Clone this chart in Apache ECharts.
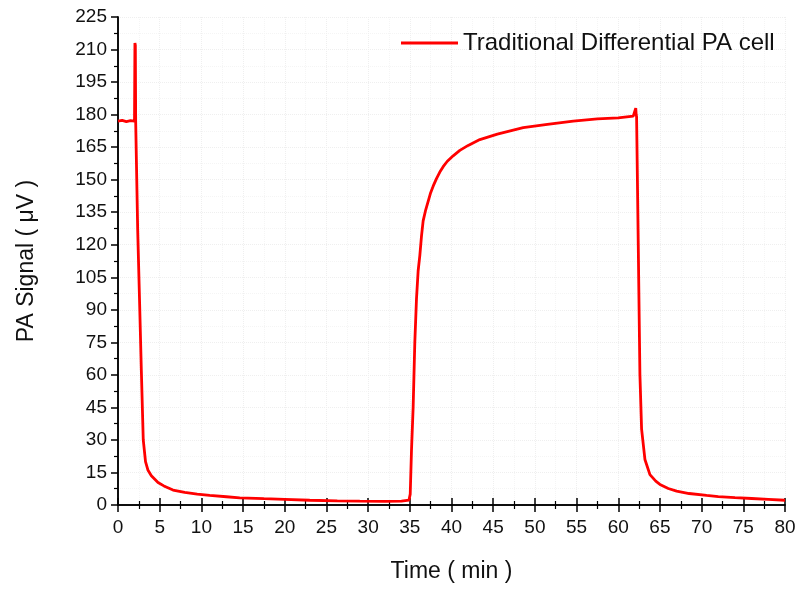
<!DOCTYPE html>
<html>
<head>
<meta charset="utf-8">
<script src="https://cdn.jsdelivr.net/npm/echarts@6/dist/echarts.min.js"></script>
<style>html,body{margin:0;padding:0;background:#fff}#c{width:800px;height:589px}</style>
</head>
<body>
<div id="c"></div>
<script>
var seriesName = 'Traditional Differential PA cell';
var xTitle = 'Time ( min )';
var yTitle = 'PA Signal ( \u03BCV )';
var timeMin = [0, 0.5, 1.0, 1.5, 1.98, 2.0, 2.03, 2.08, 2.12, 2.36, 2.6, 2.8, 3.03, 3.3, 3.6, 4.0, 4.8, 5.5, 6.6, 8.0, 9.5, 11, 13, 14.6, 17.5, 20, 23, 26.3, 29, 32, 34, 34.9,
  35.05, 35.2, 35.4, 35.6, 35.8, 36.0, 36.2, 36.4, 36.6, 36.9, 37.2, 37.5, 37.8, 38.2, 38.6, 39.0, 39.5, 40.2, 41.0, 42.0, 43.4, 45.5, 48.6, 51.5, 54.6, 57.5, 60, 61.8, 62.0, 62.1, 62.15, 62.2,
  62.4, 62.6, 62.8, 63.2, 63.8, 64.5, 65, 66, 67, 68.5, 70.6, 72, 74, 76, 78, 80];
var signalUV = [177, 177.3, 176.8, 177.2, 177, 177, 213, 212, 177, 127, 92, 62, 30, 20, 16, 13.5, 10.4, 8.8, 6.9, 5.8, 5.0, 4.4, 3.8, 3.3, 2.9, 2.6, 2.2, 1.9, 1.8, 1.7, 1.8, 2.3,
  5, 25, 45, 75, 95, 108, 115, 124, 131, 136, 140, 144, 147, 150.5, 153.5, 156, 158.5, 161, 163.5, 165.8, 168.5, 171, 174, 175.5, 177, 178, 178.5, 179.3, 180, 183, 180, 179,
  120, 60, 35, 21, 14, 11, 9.5, 7.6, 6.4, 5.3, 4.4, 3.9, 3.4, 3.0, 2.6, 2.2];
var xTicks = {min: 0, max: 80, interval: 5};
var yTicks = {min: 0, max: 225, interval: 15};

var data = timeMin.map(function (t, i) { return [t, signalUV[i]]; });
var font = 'Liberation Sans, Arial, sans-serif';
var axisLine = {show: true, lineStyle: {color: '#000', width: 1.5}};
var grid = {left: 118, right: 15, top: 17, bottom: 84};
var chart = echarts.init(document.getElementById('c'));
chart.setOption({
  animation: false,
  backgroundColor: '#fff',
  grid: grid,
  legend: {
    data: [seriesName], left: 396, top: 26, itemWidth: 57, itemHeight: 3, itemGap: 6,
    icon: 'rect',
    textStyle: {fontFamily: font, fontSize: 24, color: '#111'}
  },
  xAxis: [{
    type: 'value', min: xTicks.min, max: xTicks.max, interval: xTicks.interval,
    name: xTitle, nameLocation: 'middle', nameGap: 55,
    nameTextStyle: {fontFamily: font, fontSize: 23, color: '#111'},
    axisLine: axisLine,
    axisTick: {show: true, inside: false, length: 7, lineStyle: {color: '#000', width: 1.5}},
    minorTick: {show: true, splitNumber: 2, length: 4, lineStyle: {color: '#000', width: 1.2}},
    axisLabel: {fontFamily: font, fontSize: 19, color: '#111', margin: 13},
    splitLine: {show: true, lineStyle: {color: '#efefef', type: 'dotted', width: 1}},
    minorSplitLine: {show: true, lineStyle: {color: '#f5f5f5', type: 'dotted', width: 1}}
  }, {
    type: 'value', position: 'top', min: xTicks.min, max: xTicks.max, interval: xTicks.interval,
    axisLine: axisLine,
    axisTick: {show: true, inside: false, length: 7, lineStyle: {color: '#000', width: 1.5}},
    minorTick: {show: true, splitNumber: 2, length: 4, lineStyle: {color: '#000', width: 1.2}},
    axisLabel: {show: false}, splitLine: {show: false}
  }],
  yAxis: [{
    type: 'value', min: yTicks.min, max: yTicks.max, interval: yTicks.interval,
    name: yTitle, nameLocation: 'middle', nameGap: 80, nameRotate: 90,
    nameTextStyle: {fontFamily: font, fontSize: 23, color: '#111'},
    axisLine: axisLine,
    axisTick: {show: true, inside: false, length: 7, lineStyle: {color: '#000', width: 1.5}},
    minorTick: {show: true, splitNumber: 2, length: 4, lineStyle: {color: '#000', width: 1.2}},
    axisLabel: {fontFamily: font, fontSize: 19, color: '#111', margin: 11},
    splitLine: {show: true, lineStyle: {color: '#efefef', type: 'dotted', width: 1}},
    minorSplitLine: {show: true, lineStyle: {color: '#f5f5f5', type: 'dotted', width: 1}}
  }, {
    type: 'value', position: 'right', min: yTicks.min, max: yTicks.max, interval: yTicks.interval,
    axisLine: axisLine, axisTick: {show: false}, axisLabel: {show: false}, splitLine: {show: false}
  }],
  series: [{
    name: seriesName, type: 'line', data: data, showSymbol: false, symbol: 'none',
    xAxisIndex: 0, yAxisIndex: 0,
    lineStyle: {color: '#ff0000', width: 2.8}, itemStyle: {color: '#ff0000'}
  }]
});
</script>
</body>
</html>
